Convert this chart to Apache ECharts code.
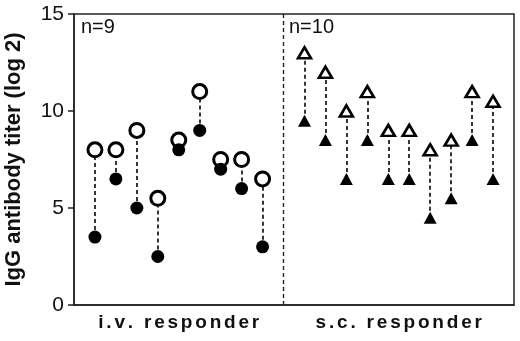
<!DOCTYPE html>
<html>
<head>
<meta charset="utf-8">
<script src="https://cdn.jsdelivr.net/npm/echarts@6/dist/echarts.min.js"></script>
<style>
  html, body { margin: 0; padding: 0; background: #fff; }
  #chart { width: 520px; height: 341px; }
</style>
</head>
<body>
<div id="chart"></div>
<script>
// titers, log2, one entry per animal (pre = filled, post = open)
const ivPre = [3.5, 6.5, 5, 2.5, 8, 9, 7, 6, 3];
const ivPost = [8, 8, 9, 5.5, 8.5, 11, 7.5, 7.5, 6.5];
const scPre = [9.5, 8.5, 6.5, 8.5, 6.5, 6.5, 4.5, 5.5, 8.5, 6.5];
const scPost = [13, 12, 10, 11, 9, 9, 8, 8.5, 11, 10.5];

const groupNames = ['i.v. responder', 's.c. responder'];
const groupCenters = [5, 15.5];
const groupCounts = ['n=9', 'n=10'];
const yTicks = [0, 5, 10, 15];

const FONT = '"Liberation Sans", Arial, sans-serif';

// x slots: i.v. animals at 1..9, divider at 10, s.c. animals at 11..20
const ivX = ivPre.map((v, i) => i + 1);
const scX = scPre.map((v, i) => i + 11);

const pts = (xs, ys) => xs.map((x, i) => [x, ys[i]]);
const connectors = pts(ivX, ivPre).concat(pts(scX, scPre)).map((p, i) => {
    const hi = i < ivPost.length ? ivPost[i] : scPost[i - ivPost.length];
    return { coords: [[p[0], p[1]], [p[0], hi]] };
});

// letter-spaced group label: every char as its own padded rich token
const spaced = s => s.split('').map(c => '{c|' + (c === ' ' ? '\u00a0' : c) + '}').join('');

const chart = echarts.init(document.getElementById('chart'));
chart.setOption({
    animation: false,
    grid: {
        left: 74, right: 6, top: 14, bottom: 36,
        outerBoundsMode: 'none', containLabel: false,
        show: true, borderColor: '#222', borderWidth: 1.5
    },
    xAxis: {
        type: 'value', min: 0, max: 21,
        splitLine: { show: false },
        axisLine: { lineStyle: { color: '#222', width: 1.5 } },
        axisTick: { show: false },
        axisLabel: {
            customValues: groupCenters,
            formatter: v => spaced(groupNames[groupCenters.indexOf(v)] || ''),
            margin: 8,
            rich: {
                c: { fontFamily: FONT, fontSize: 19, fontWeight: 'bold', color: '#111', padding: [0, 1.4] }
            }
        }
    },
    yAxis: {
        type: 'value', min: 0, max: 15, interval: 5,
        splitLine: { show: false },
        axisLine: { show: true, lineStyle: { color: '#222', width: 1.5 } },
        axisTick: { show: true, length: 6, lineStyle: { color: '#222', width: 1.5 } },
        axisLabel: {
            customValues: yTicks,
            fontFamily: FONT, fontSize: 21, color: '#111', margin: 10
        },
        name: 'IgG antibody titer (log 2)',
        nameLocation: 'middle',
        nameGap: 49,
        nameTextStyle: { fontFamily: FONT, fontSize: 22, fontWeight: 'bold', color: '#111' }
    },
    graphic: [
        { type: 'text', left: 81, top: 17, style: { text: groupCounts[0], font: '20px ' + FONT, fill: '#111' } },
        { type: 'text', left: 289, top: 17, style: { text: groupCounts[1], font: '20px ' + FONT, fill: '#111' } }
    ],
    series: [
        {
            type: 'lines',
            coordinateSystem: 'cartesian2d',
            data: connectors,
            symbol: 'none',
            lineStyle: { color: '#111', width: 1.7, type: [4, 3], opacity: 1 },
            z: 1,
            markLine: {
                silent: true,
                symbol: 'none',
                label: { show: false },
                lineStyle: { color: '#222', width: 1.4, type: [4, 3] },
                data: [{ xAxis: 10 }]
            }
        },
        {
            type: 'scatter', data: pts(ivX, ivPre),
            symbol: 'circle', symbolSize: 13,
            itemStyle: { color: '#000', opacity: 1 }, z: 3
        },
        {
            type: 'scatter', data: pts(ivX, ivPost),
            symbol: 'circle', symbolSize: 14,
            itemStyle: { color: '#fff', borderColor: '#000', borderWidth: 3, opacity: 1 }, z: 2
        },
        {
            type: 'scatter', data: pts(scX, scPre),
            symbol: 'triangle', symbolSize: [13, 12],
            itemStyle: { color: '#000', opacity: 1 }, z: 3
        },
        {
            type: 'scatter', data: pts(scX, scPost),
            symbol: 'triangle', symbolSize: [13, 11],
            itemStyle: { color: '#fff', borderColor: '#000', borderWidth: 2.6, opacity: 1 }, z: 2
        }
    ]
});
</script>
</body>
</html>
